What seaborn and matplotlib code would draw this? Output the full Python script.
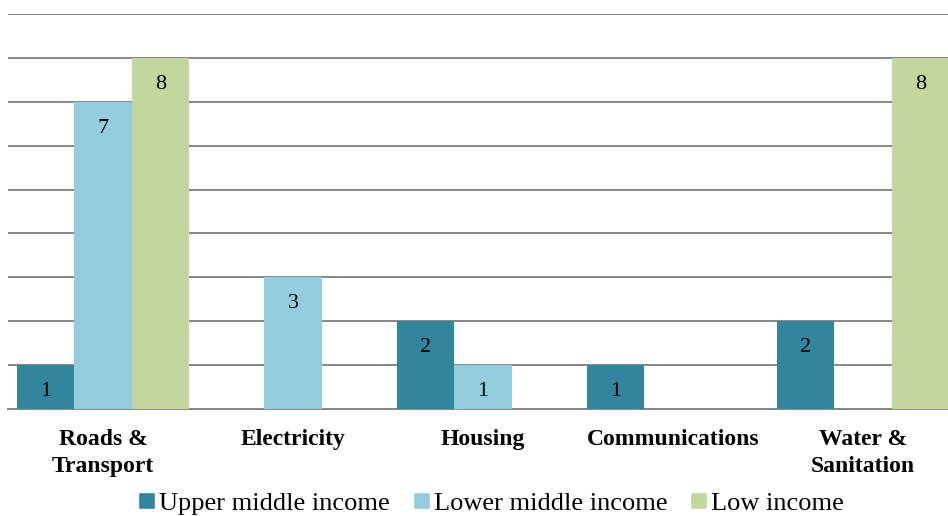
import pandas as pd
import seaborn as sns
import matplotlib.pyplot as plt
from matplotlib.patches import Patch

categories = ['Roads &\nTransport', 'Electricity', 'Housing', 'Communications', 'Water &\nSanitation']
series = ['Upper middle income', 'Lower middle income', 'Low income']
upper_middle = [1, 0, 2, 1, 2]
lower_middle = [7, 3, 1, 0, 0]
low_income = [8, 0, 0, 0, 8]

my_palette = {'Upper middle income': '#31859c',
              'Lower middle income': '#93cddd',
              'Low income': '#c3d69b'}

rows = []
for name, vals in zip(series, [upper_middle, lower_middle, low_income]):
    for cat, v in zip(categories, vals):
        rows.append({'Category': cat, 'Income': name, 'Count': v})
df = pd.DataFrame(rows)

sns.set_style('white')
plt.rcParams['font.family'] = ['Liberation Serif', 'DejaVu Serif']
plt.rcParams['text.color'] = 'black'
plt.rcParams['xtick.color'] = 'black'

fig = plt.figure(figsize=(9.48, 5.16), dpi=100)
ax = fig.add_axes([8 / 948, 107 / 516, 950 / 948, 395 / 516])

sns.barplot(data=df, x='Category', y='Count', hue='Income', order=categories,
            hue_order=series, palette=my_palette, width=0.91, gap=0,
            saturation=1, linewidth=0, ax=ax, legend=False, zorder=3)

ax.set_ylim(0, 9)
ax.set_xlim(-0.5, 4.5)
ax.set_yticks(range(0, 10))
ax.set_yticklabels([])
ax.yaxis.grid(True, color='#878787', linewidth=1.4, zorder=0)
ax.set_axisbelow(True)
ax.tick_params(axis='y', length=0)
for s in ['left', 'right', 'top']:
    ax.spines[s].set_visible(False)
ax.spines['bottom'].set_color('#878787')
ax.spines['bottom'].set_linewidth(1.4)

ax.set_xlabel('')
ax.set_ylabel('')
ax.set_xticks(range(len(categories)))
ax.set_xticklabels(categories, fontsize=17, fontweight='bold', linespacing=1.35, color='black')
ax.tick_params(axis='x', length=0, pad=14.5)
ax.set_xticks([i - 0.5 for i in range(len(categories) + 1)], minor=True)
ax.tick_params(axis='x', which='minor', length=6, width=1.2, color='#878787')

for cont in ax.containers:
    labels = [f'{b.get_height():.0f}' if b.get_height() > 0 else '' for b in cont]
    ax.bar_label(cont, labels=labels, padding=-26, fontsize=16, color='black')

handles = [Patch(facecolor=my_palette[s], label=s) for s in series]
fig.legend(handles=handles, loc='lower center', bbox_to_anchor=(491 / 948, -0.018), ncol=3,
           frameon=False, fontsize=19, handlelength=0.65, handleheight=0.65,
           handletextpad=0.15, columnspacing=0.85, borderaxespad=0, labelcolor='black')

plt.savefig('out.png', dpi=100)
